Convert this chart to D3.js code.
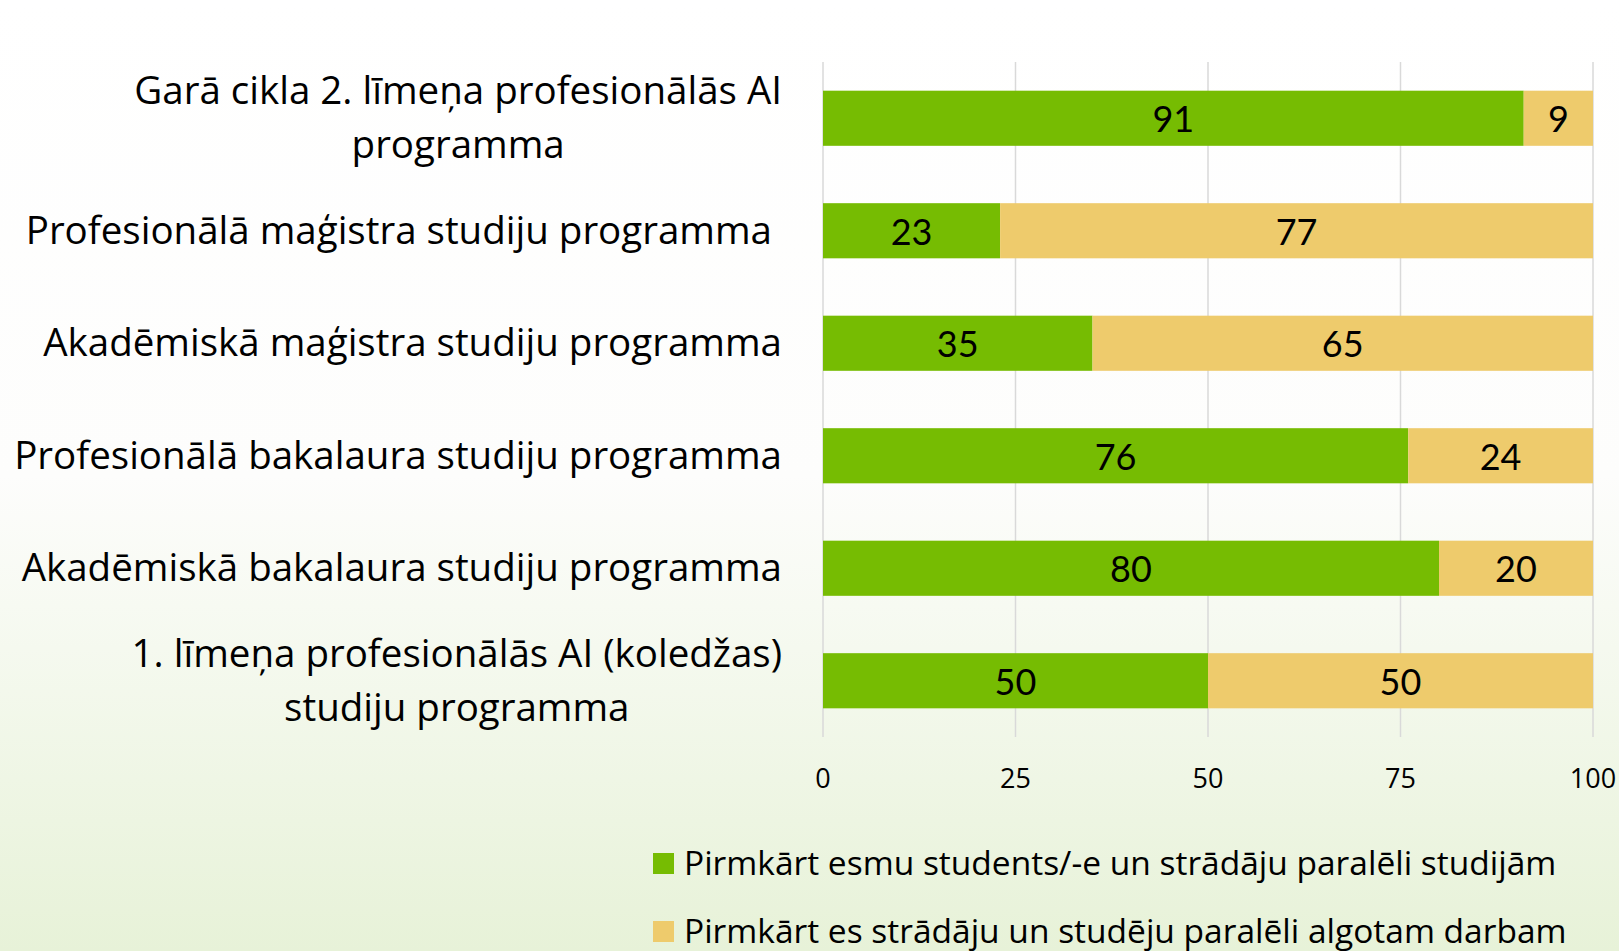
<!DOCTYPE html>
<html>
<head>
<meta charset="utf-8">
<script src="https://cdn.jsdelivr.net/npm/d3@7"></script>
<style>
  html, body { margin: 0; padding: 0; }
  body { width: 1619px; height: 951px; overflow: hidden; }
  text { font-family: "Open Sans", "Noto Sans", sans-serif; fill: #000; }
  .value { font-family: Lato, sans-serif; }
</style>
</head>
<body>
<div id="chart"></div>
<script>
const categories = [
  "Garā cikla 2. līmeņa profesionālās AI\nprogramma",
  "Profesionālā maģistra studiju programma ",
  "Akadēmiskā maģistra studiju programma",
  "Profesionālā bakalaura studiju programma",
  "Akadēmiskā bakalaura studiju programma",
  "1. līmeņa profesionālās AI (koledžas)\nstudiju programma"
];
const studentsFirst = [91, 23, 35, 76, 80, 50];
const workFirst = [9, 77, 65, 24, 20, 50];
const seriesNames = [
  "Pirmkārt esmu students/-e un strādāju paralēli studijām",
  "Pirmkārt es strādāju un studēju paralēli algotam darbam"
];
const xTicks = [0, 25, 50, 75, 100];
const colors = ["#76bc02", "#eecb6c"];

const WIDTH = 1619;
const HEIGHT = 951;
const PLOT = { LEFT: 823, RIGHT: 1593, TOP: 62, BOTTOM: 737 };

const svg = d3.select("#chart")
  .append("svg")
  .attr("width", WIDTH)
  .attr("height", HEIGHT);

// background gradient (white to pale green)
const grad = svg.append("defs").append("linearGradient")
  .attr("id", "bg")
  .attr("x1", 0).attr("y1", 0).attr("x2", 0).attr("y2", 1);
grad.append("stop").attr("offset", "0%").attr("stop-color", "#ffffff");
grad.append("stop").attr("offset", "50%").attr("stop-color", "#fdfdfc");
grad.append("stop").attr("offset", "100%").attr("stop-color", "#e7f2d8");
svg.append("rect")
  .attr("width", WIDTH).attr("height", HEIGHT)
  .attr("fill", "url(#bg)");

const x = d3.scaleLinear().domain([0, 100]).range([PLOT.LEFT, PLOT.RIGHT]);
const y = d3.scaleBand()
  .domain(categories)
  .range([PLOT.TOP, PLOT.BOTTOM])
  .paddingInner(0.51)
  .paddingOuter(0.255);

// grid
svg.append("g")
  .selectAll("line")
  .data(xTicks)
  .join("line")
  .attr("x1", d => x(d)).attr("x2", d => x(d))
  .attr("y1", PLOT.TOP).attr("y2", PLOT.BOTTOM)
  .attr("stroke", "#d9d9d9")
  .attr("stroke-width", 1.5);

// tick labels
svg.append("g")
  .selectAll("text")
  .data(xTicks)
  .join("text")
  .attr("x", d => x(d))
  .attr("y", 781)
  .attr("text-anchor", "middle")
  .attr("dominant-baseline", "middle")
  .attr("font-size", "27px")
  .text(d => d);

// stacked data
const rows = categories.map((c, i) => ({ cat: c, s0: studentsFirst[i], s1: workFirst[i] }));
const stack = d3.stack().keys(["s0", "s1"])(rows);

const layers = svg.append("g")
  .selectAll("g")
  .data(stack)
  .join("g")
  .attr("fill", (d, i) => colors[i]);

layers.selectAll("rect")
  .data(d => d)
  .join("rect")
  .attr("x", d => x(d[0]))
  .attr("width", d => x(d[1]) - x(d[0]))
  .attr("y", d => y(d.data.cat))
  .attr("height", y.bandwidth());

layers.selectAll("text")
  .data(d => d)
  .join("text")
  .attr("class", "value")
  .attr("x", d => (x(d[0]) + x(d[1])) / 2)
  .attr("y", d => y(d.data.cat) + y.bandwidth() / 2 + 5)
  .attr("text-anchor", "middle")
  .attr("dominant-baseline", "middle")
  .attr("font-size", "36px")
  .text(d => d[1] - d[0]);

// category labels
const LABEL_RIGHT = 782;
const LINE_H = 54;
const catG = svg.append("g");
categories.forEach(c => {
  const lines = c.split("\n");
  const cy = y(c) + y.bandwidth() / 2 + 3;
  const t = catG.append("text")
    .attr("font-size", "38.5px")
    .style("white-space", "pre")
    .attr("dominant-baseline", "middle");
  lines.forEach((ln, j) => {
    t.append("tspan")
      .attr("y", cy + (j - (lines.length - 1) / 2) * LINE_H)
      .text(ln);
  });
  if (lines.length === 1) {
    t.attr("text-anchor", "end");
    t.selectAll("tspan").attr("x", LABEL_RIGHT);
  } else {
    // right align the block, center each line within it
    let maxW = 0;
    t.selectAll("tspan").each(function () {
      maxW = Math.max(maxW, this.getComputedTextLength());
    });
    t.attr("text-anchor", "middle");
    t.selectAll("tspan").attr("x", LABEL_RIGHT - maxW / 2);
  }
});

// legend
const legend = svg.append("g")
  .selectAll("g")
  .data(seriesNames)
  .join("g")
  .attr("transform", (d, i) => `translate(653, ${853 + i * 68})`);

legend.append("rect")
  .attr("width", 21).attr("height", 21)
  .attr("fill", (d, i) => colors[i]);

legend.append("text")
  .attr("x", 31)
  .attr("y", 13)
  .attr("dominant-baseline", "middle")
  .attr("font-size", "33.5px")
  .text(d => d);
</script>
</body>
</html>
